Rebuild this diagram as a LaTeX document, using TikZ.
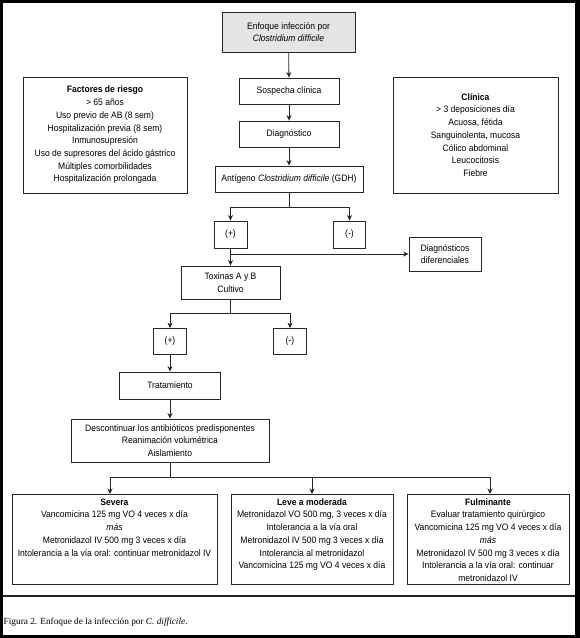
\documentclass[tikz,border=0pt]{standalone}
\usepackage{fontspec}
\setmainfont{Liberation Sans}[FakeStretch=0.92]
\newfontfamily\capfont{Liberation Serif}
\usetikzlibrary{arrows.meta}
\newcommand{\dfont}{\fontsize{9.3}{12.7}\selectfont}
\newcommand{\topstrut}{\rule{0pt}{9.8pt}}
\begin{document}
\begin{tikzpicture}[x=1pt,y=-1pt,
  box/.style={draw=black!85, line width=0.85pt, align=center, inner sep=0pt, font=\dfont},
  conn/.style={draw=black!85, line width=0.85pt},
  arr/.style={conn, -{Stealth[length=5.5pt,width=5pt]}}
]
\fill[black] (0,0) rectangle (580,638);
\fill[white] (3,3.3) rectangle (575,635);
\useasboundingbox (0,0) rectangle (580,638);

% top column
\node[box, fill=black!10, minimum width=133pt, minimum height=40pt] (enf) at (288.5,32) {Enfoque infección por\\\textit{Clostridium difficile}};
\node[box, minimum width=100pt, minimum height=26pt] (sos) at (289,91) {Sospecha clínica};
\node[box, minimum width=100pt, minimum height=26pt] (diag) at (289,134) {Diagnóstico};
\node[box, minimum width=148pt, minimum height=26pt] (ant) at (289,179) {Antígeno \textit{Clostridium difficile} (GDH)};

% side boxes
\node[box, minimum width=164pt, minimum height=116pt] (fac) at (105,135) {\textbf{Factores de riesgo}\\> 65 años\\Uso previo de AB (8 sem)\\Hospitalización previa (8 sem)\\Inmunosupresión\\Uso de supresores del ácido gástrico\\Múltiples comorbilidades\\Hospitalización prolongada};
\node[box, minimum width=165pt, minimum height=116pt] (cli) at (475.5,135) {\textbf{Clínica}\\> 3 deposiciones día\\Acuosa, fétida\\Sanguinolenta, mucosa\\Cólico abdominal\\Leucocitosis\\Fiebre};

% first test results
\node[box, minimum width=33pt, minimum height=27pt] (p1) at (230.5,234.5) {(+)};
\node[box, minimum width=32pt, minimum height=27pt] (n1) at (349.5,234.5) {(-)};
\node[box, minimum width=72pt, minimum height=34pt] (dd) at (445,254) {Diagnósticos\\diferenciales};
\node[box, minimum width=99pt, minimum height=33pt] (tox) at (230.5,282.5) {Toxinas A y B\\Cultivo};

% second test results
\node[box, minimum width=33pt, minimum height=26pt] (p2) at (170,341.5) {(+)};
\node[box, minimum width=33pt, minimum height=26pt] (n2) at (290,341.5) {(-)};
\node[box, minimum width=101pt, minimum height=27pt] (trat) at (170,385.5) {Tratamiento};
\node[box, minimum width=198pt, minimum height=43pt] (desc) at (170,440.5) {Descontinuar los antibióticos predisponentes\\Reanimación volumétrica\\Aislamiento};

% treatment boxes
\node[box, anchor=north, minimum width=205pt, minimum height=90pt] (sev) at (114.5,494) {\parbox[c][88pt][t]{201pt}{\centering\dfont
\topstrut\textbf{Severa}\\Vancomicina 125 mg VO 4 veces x día\\\textit{más}\\Metronidazol IV 500 mg 3 veces x día\\Intolerancia a la vía oral: continuar metronidazol IV}};
\node[box, anchor=north, minimum width=162pt, minimum height=90pt] (leve) at (312,494) {\parbox[c][88pt][t]{158pt}{\centering\dfont
\topstrut\textbf{Leve a moderada}\\Metronidazol VO 500 mg, 3 veces x día\\Intolerancia a la vía oral\\Metronidazol IV 500 mg 3 veces x día\\Intolerancia al metronidazol\\Vancomicina 125 mg VO 4 veces x día}};
\node[box, anchor=north, minimum width=162pt, minimum height=90pt] (ful) at (488,494) {\parbox[c][88pt][t]{158pt}{\centering\dfont
\topstrut\textbf{Fulminante}\\Evaluar tratamiento quirúrgico\\Vancomicina 125 mg VO 4 veces x día\\\textit{más}\\Metronidazol IV 500 mg 3 veces x día\\Intolerancia a la vía oral: continuar\\metronidazol IV}};

% connectors
\draw[arr] (enf) -- (sos);
\draw[arr] (sos) -- (diag);
\draw[arr] (diag) -- (ant);

\coordinate (j1) at (289,207);
\draw[conn] (ant.south) -- (j1);
\draw[conn] (p1.north |- j1) -- (n1.north |- j1);
\draw[arr] (p1.north |- j1) -- (p1.north);
\draw[arr] (n1.north |- j1) -- (n1.north);

\draw[arr] (p1.south) -- (tox.north);
\draw[arr] (p1.south |- dd.west) -- (dd.west);

\coordinate (j2) at (230.5,313);
\draw[conn] (tox.south) -- (j2);
\draw[conn] (p2.north |- j2) -- (n2.north |- j2);
\draw[arr] (p2.north |- j2) -- (p2.north);
\draw[arr] (n2.north |- j2) -- (n2.north);

\draw[arr] (p2.south) -- (trat.north);
\draw[arr] (trat.south) -- (desc.north);

\coordinate (j3) at (170,477);
\coordinate (j3l) at (110,477);
\coordinate (j3m) at (312,477);
\coordinate (j3r) at (490,477);
\draw[conn] (desc.south) -- (j3);
\draw[conn] (j3l) -- (j3r);
\draw[arr] (j3l) -- (j3l |- sev.north);
\draw[arr] (j3m) -- (j3m |- leve.north);
\draw[arr] (j3r) -- (j3r |- ful.north);

% separator and caption
\draw[black!85, line width=1.1pt] (3,596) -- (575,596);
\node[anchor=base west, inner sep=0pt, font=\capfont\fontsize{9.3}{11}\selectfont] (cap) at (3.5,624) {Figura 2. Enfoque de la infección por \textit{C. difficile}.};
\end{tikzpicture}
\end{document}
